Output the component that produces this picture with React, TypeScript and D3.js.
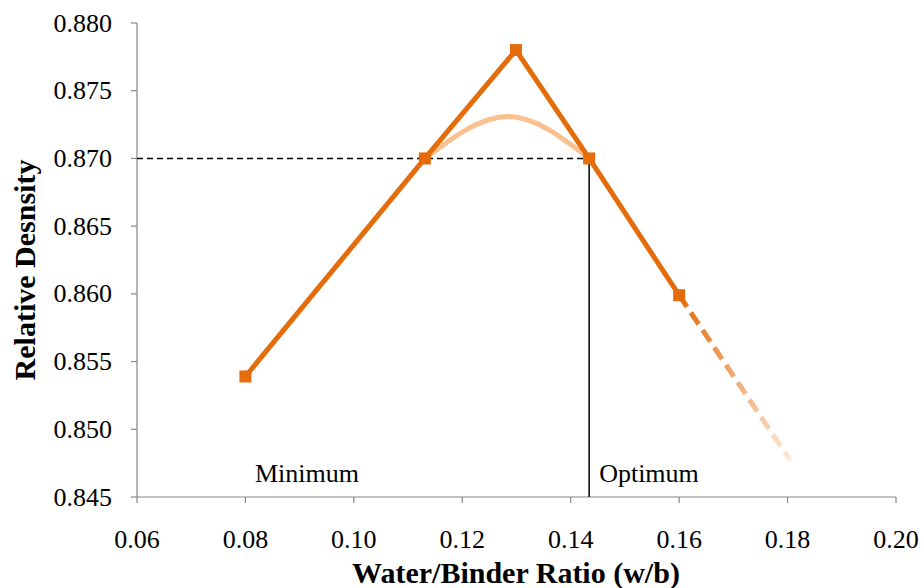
import React from "react";
import * as d3 from "d3";

const xTicks = [0.06, 0.08, 0.1, 0.12, 0.14, 0.16, 0.18, 0.2];
const yTicks = [0.845, 0.85, 0.855, 0.86, 0.865, 0.87, 0.875, 0.88];
const wbRatio = [0.08, 0.1131, 0.1299, 0.1434, 0.16];
const density = [0.8539, 0.87, 0.878, 0.87, 0.8599];
const arcX = [0.1131, 0.1284, 0.1434];
const arcY = [0.87, 0.8731, 0.87];
const extX = [0.16, 0.1805];
const extY = [0.8599, 0.8477];
const optimumX = 0.1434;
const refY = 0.87;

const W = 922, H = 588;
const L = 137, R = 896, T = 23, B = 497;
const FONT = "'Liberation Serif', 'Times New Roman', serif";

export default function App() {
  const x = d3.scaleLinear().domain([0.06, 0.2]).range([L, R]);
  const y = d3.scaleLinear().domain([0.845, 0.88]).range([B, T]);
  const line = d3.line<number>().x((_, i) => x(wbRatio[i])).y((d) => y(d));
  const arc = d3.line<number>().x((_, i) => x(arcX[i])).y((d) => y(d)).curve(d3.curveNatural);
  const ext = d3.line<number>().x((_, i) => x(extX[i])).y((d) => y(d));
  const axisColor = "#868686";
  const ts = { fontFamily: FONT };
  return (
    <svg width={W} height={H} style={{ position: "absolute", left: 0, top: 0, background: "#fff" }}>
      <defs>
        <linearGradient id="fade" gradientUnits="userSpaceOnUse" x1={x(extX[0])} y1={y(extY[0])} x2={x(extX[1])} y2={y(extY[1])}>
          <stop offset="0" stopColor="#E46C0A" />
          <stop offset="1" stopColor="#FDE9D9" />
        </linearGradient>
      </defs>
      <line x1={L} x2={L} y1={T} y2={B} stroke={axisColor} strokeWidth={1.2} />
      <line x1={L} x2={R} y1={B} y2={B} stroke={axisColor} strokeWidth={1.2} />
      {yTicks.map((t) => (
        <g key={"y" + t}>
          <line x1={L - 6} x2={L} y1={y(t)} y2={y(t)} stroke={axisColor} strokeWidth={1.2} />
          <text x={112} y={y(t)} dy="0.33em" textAnchor="end" fontSize={26} fill="#000" style={ts}>
            {t.toFixed(3)}
          </text>
        </g>
      ))}
      {xTicks.map((t) => (
        <g key={"x" + t}>
          <line x1={x(t)} x2={x(t)} y1={B} y2={B + 6} stroke={axisColor} strokeWidth={1.2} />
          <text x={x(t)} y={548} textAnchor="middle" fontSize={26} fill="#000" style={ts}>
            {t.toFixed(2)}
          </text>
        </g>
      ))}
      <line x1={L} x2={x(optimumX)} y1={y(refY)} y2={y(refY)} stroke="#000" strokeWidth={1.5} strokeDasharray="6,4" />
      <line x1={x(optimumX)} x2={x(optimumX)} y1={y(refY)} y2={B} stroke="#000" strokeWidth={1.5} />
      <path d={arc(arcY) || ""} fill="none" stroke="#FAC090" strokeWidth={5} />
      <path d={ext(extY) || ""} fill="none" stroke="url(#fade)" strokeWidth={5} strokeDasharray="14,7" />
      <path d={line(density) || ""} fill="none" stroke="#E46C0A" strokeWidth={5} strokeLinejoin="round" />
      {density.map((d, i) => (
        <rect key={i} x={x(wbRatio[i]) - 6} y={y(d) - 6} width={12} height={12} fill="#E46C0A" />
      ))}
      <text x={255} y={482} fontSize={26} fill="#000" style={ts}>Minimum</text>
      <text x={x(optimumX) + 10} y={482} fontSize={26} fill="#000" style={ts}>Optimum</text>
      <text x={516} y={583} textAnchor="middle" fontSize={30} fontWeight="bold" fill="#000" style={ts}>
        Water/Binder Ratio (w/b)
      </text>
      <text transform={`translate(35, 270) rotate(-90)`} textAnchor="middle" fontSize={30} fontWeight="bold" fill="#000" style={ts}>
        Relative Desnsity
      </text>
    </svg>
  );
}
